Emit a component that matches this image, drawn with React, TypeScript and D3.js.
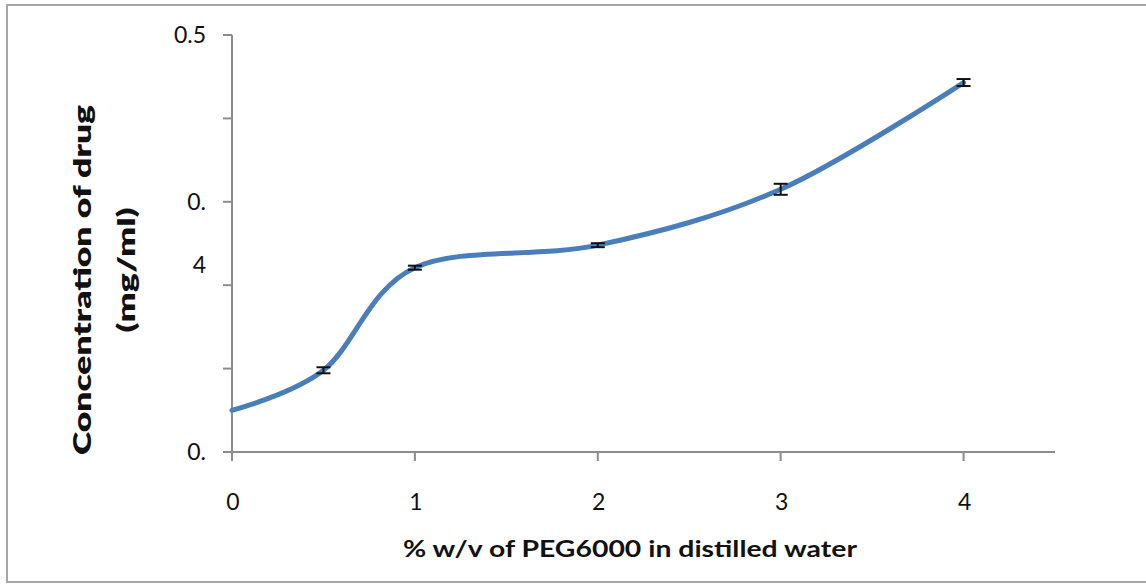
import React from "react";
import * as d3 from "d3";

const xValues = [0, 0.5, 1, 2, 3, 4];
const yValues = [0.275, 0.299, 0.3605, 0.374, 0.4075, 0.4715];
const yErrors = [0, 0.0018, 0.0012, 0.0012, 0.0033, 0.0021];
const xTicks = [0, 1, 2, 3, 4];
const yTicks = [0.25, 0.3, 0.35, 0.4, 0.45, 0.5];
const yTickLabels = ["0.", "", "", "0.\n4", "", "0.5"];

const W = 1146;
const H = 585;
const FONT = "Lato, 'Open Sans', sans-serif";

export default function App() {
  const x = d3.scaleLinear().domain([0, 4.5]).range([232, 1055]);
  const y = d3.scaleLinear().domain([0.25, 0.5]).range([452, 35]);
  const pts: [number, number][] = xValues.map((v, i) => [x(v), y(yValues[i])]);
  const line = d3.line().curve(d3.curveCardinal.tension(0))(pts) || "";
  const axisColor = "#8c8c8c";

  return (
    <svg
      width={W}
      height={H}
      style={{ position: "absolute", left: 0, top: 0, background: "#fff" }}
    >
      {/* outer frame */}
      <rect x={7} y={5} width={1160} height={577} fill="none" stroke="#a6a6a6" strokeWidth={2} />

      {/* y axis */}
      <line x1={x(0)} x2={x(0)} y1={y(0.5)} y2={y(0.25) + 9} stroke={axisColor} strokeWidth={2} />
      {yTicks.map((t, i) => (
        <g key={"yt" + i}>
          <line x1={x(0) - 9} x2={x(0)} y1={y(t)} y2={y(t)} stroke={axisColor} strokeWidth={2} />
          {yTickLabels[i].split("\n").map((s, j) => (
            <text
              key={j}
              x={206}
              y={y(t) + j * 63}
              dy="0.35em"
              textAnchor="end"
              fontFamily={FONT}
              fontSize={23}
              fill="#111"
            >
              {s}
            </text>
          ))}
        </g>
      ))}

      {/* x axis */}
      <line x1={x(0) - 9} x2={x(4.5)} y1={y(0.25)} y2={y(0.25)} stroke={axisColor} strokeWidth={2} />
      {xTicks.map((t) => (
        <g key={"xt" + t}>
          <line x1={x(t)} x2={x(t)} y1={y(0.25)} y2={y(0.25) + 9} stroke={axisColor} strokeWidth={2} />
          <text
            x={x(t) + 1}
            y={502}
            dy="0.35em"
            textAnchor="middle"
            fontFamily={FONT}
            fontSize={23}
            fill="#111"
          >
            {t}
          </text>
        </g>
      ))}

      {/* series line */}
      <path d={line} fill="none" stroke="#4a7ebb" strokeWidth={5} strokeLinecap="round" />

      {/* error bars */}
      {xValues.map((v, i) =>
        yErrors[i] > 0 ? (
          <g key={"e" + i} stroke="#111" strokeWidth={2}>
            <line x1={x(v)} x2={x(v)} y1={y(yValues[i] + yErrors[i])} y2={y(yValues[i] - yErrors[i])} />
            <line x1={x(v) - 7} x2={x(v) + 7} y1={y(yValues[i] + yErrors[i])} y2={y(yValues[i] + yErrors[i])} />
            <line x1={x(v) - 7} x2={x(v) + 7} y1={y(yValues[i] - yErrors[i])} y2={y(yValues[i] - yErrors[i])} />
          </g>
        ) : null
      )}

      {/* axis titles */}
      <text
        x={630}
        y={557}
        textAnchor="middle"
        fontFamily={FONT}
        fontSize={23}
        fontWeight={700}
        fill="#111"
        textLength={454}
        lengthAdjust="spacingAndGlyphs"
      >
        % w/v of PEG6000 in distilled water
      </text>
      <text
        transform="translate(91,280) rotate(-90)"
        textAnchor="middle"
        fontFamily={FONT}
        fontSize={24}
        fontWeight={800}
        fill="#111"
        textLength={350}
        lengthAdjust="spacingAndGlyphs"
      >
        Concentration of drug
      </text>
      <text
        transform="translate(135,270) rotate(-90)"
        textAnchor="middle"
        fontFamily={FONT}
        fontSize={24}
        fontWeight={800}
        fill="#111"
        textLength={125}
        lengthAdjust="spacingAndGlyphs"
      >
        (mg/ml)
      </text>
    </svg>
  );
}
